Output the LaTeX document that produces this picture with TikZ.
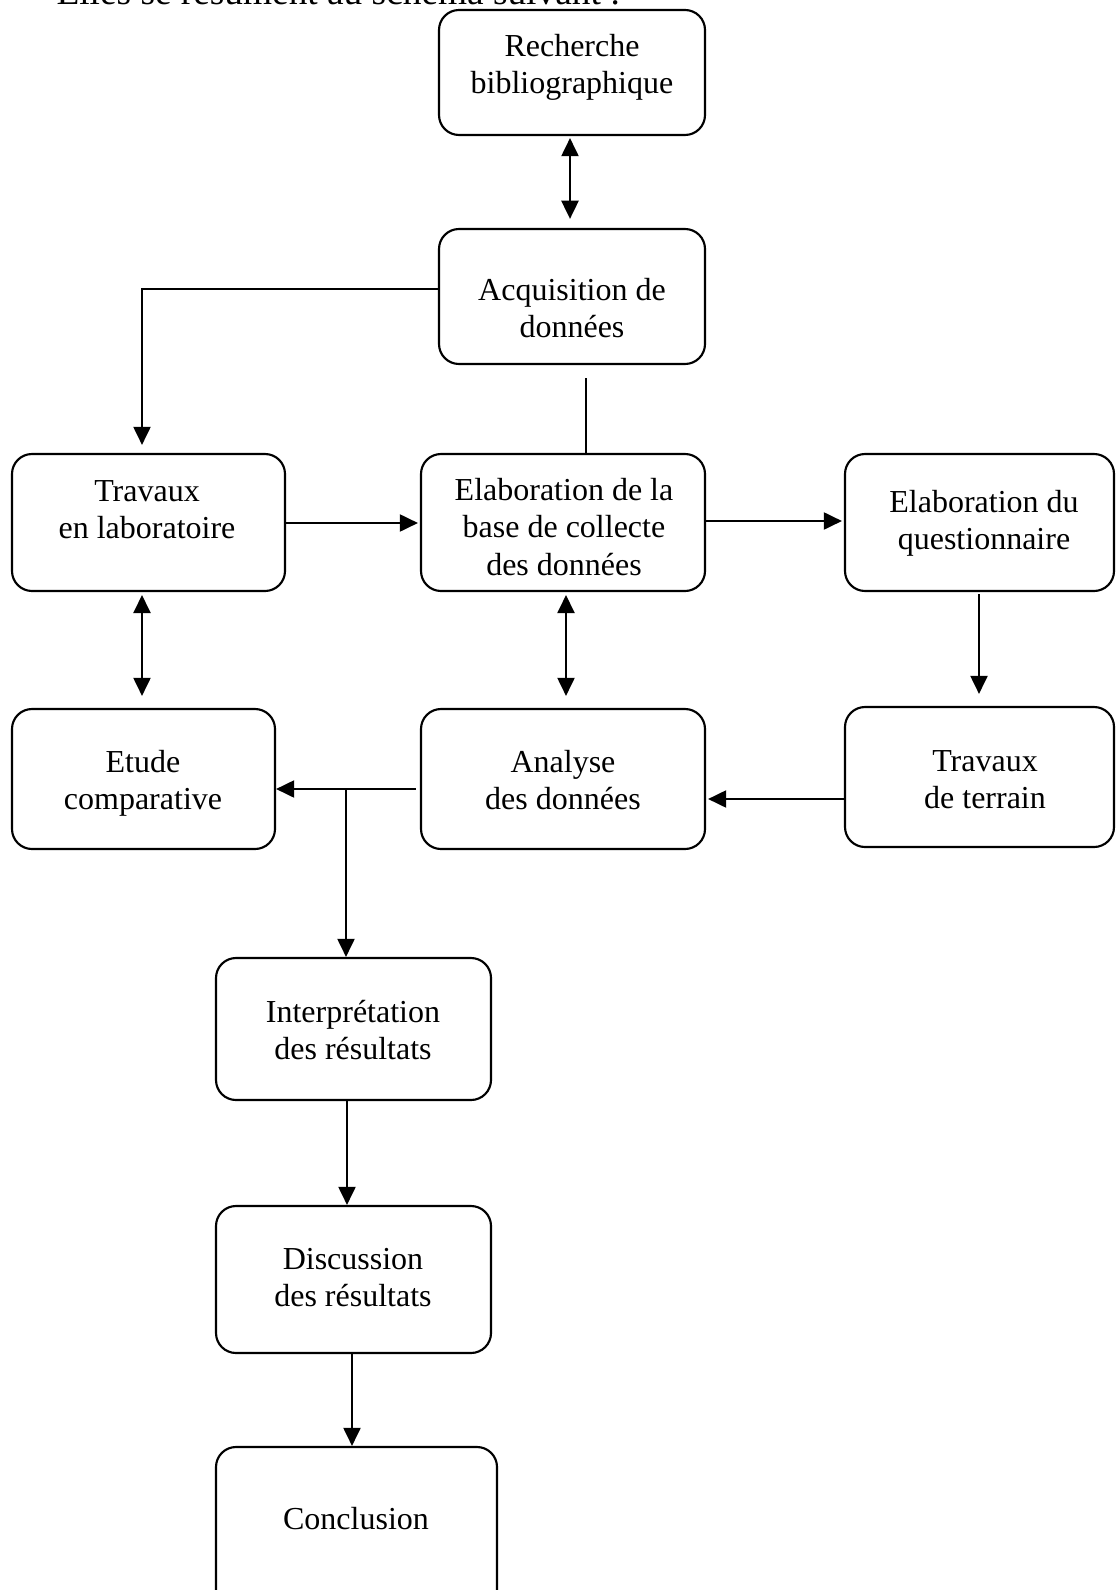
\documentclass[tikz,border=0pt]{standalone}
\usepackage{fontspec}
\setmainfont{Liberation Serif}
\usetikzlibrary{arrows.meta,fit}
\begin{document}
\begin{tikzpicture}[x=0.375pt,y=-0.375pt,
  box/.style={draw, line width=0.8pt, rounded corners=7.5pt, inner sep=0pt},
  txt/.style={align=center, font=\fontsize{12}{13.9}\selectfont, inner sep=0pt},
  tip/.style={},
  arr/.style={line width=0.8pt, -{Triangle[length=6.8pt,width=6.4pt]}},
  darr/.style={line width=0.8pt, {Triangle[length=6.8pt,width=6.4pt]}-{Triangle[length=6.8pt,width=6.4pt]}},
  ln/.style={line width=0.8pt}]
\useasboundingbox (0,0) rectangle (1116,1590);

\node[anchor=base west, font=\fontsize{14}{16}\selectfont, inner sep=0pt] (head) at (56,5) {Elles se résument au schéma suivant :};

\node[box, fit={(439,10) (705,135)}] (rech) {};
\node[txt] (trech) at (572,67) {Recherche\\bibliographique};
\node[box, fit={(439,229) (705,364)}] (acq) {};
\node[txt] (tacq) at (572,308) {Acquisition de\\données};
\node[box, fit={(12,454) (285,591)}] (lab) {};
\node[txt] (tlab) at (147,510) {Travaux\\en laboratoire};
\node[box, fit={(421,454) (705,591)}] (elab) {};
\node[txt] (telab) at (564,527) {Elaboration de la\\base de collecte\\des données};
\node[box, fit={(845,454) (1114,591)}] (quest) {};
\node[txt] (tquest) at (984,523) {Elaboration du\\questionnaire};
\node[box, fit={(12,709) (275,849)}] (etude) {};
\node[txt] (tetude) at (143,783) {Etude\\comparative};
\node[box, fit={(421,709) (705,849)}] (ana) {};
\node[txt] (tana) at (563,780) {Analyse\\des données};
\node[box, fit={(845,707) (1114,847)}] (terr) {};
\node[txt] (tterr) at (985,780) {Travaux\\de terrain};
\node[box, fit={(216,958) (491,1100)}] (interp) {};
\node[txt] (tinterp) at (353,1030) {Interprétation\\des résultats};
\node[box, fit={(216,1206) (491,1353)}] (disc) {};
\node[txt] (tdisc) at (353,1278) {Discussion\\des résultats};
\node[box, fit={(216,1447) (497,1620)}] (concl) {};
\node[txt] (tconcl) at (356,1519) {Conclusion};

\draw[darr, shorten <=0.75pt, shorten >=3.4pt] (570,0 |- rech.south) -- (570,0 |- acq.north);
\draw[arr, shorten >=3pt] (acq.west |- 0,289) -| (142,0 |- lab.north);
\draw[ln, shorten <=4.9pt] (586,0 |- acq.south) -- (586,0 |- elab.north);
\draw[arr, shorten >=0.75pt] (lab.east |- 0,523) -- (elab.west |- 0,523);
\draw[arr, shorten >=0.75pt] (elab.east |- 0,521) -- (quest.west |- 0,521);
\draw[darr, shorten <=1.1pt, shorten >=4.5pt] (142,0 |- lab.south) -- (142,0 |- etude.north);
\draw[darr, shorten <=1.1pt, shorten >=4.5pt] (566,0 |- elab.south) -- (566,0 |- ana.north);
\draw[arr, shorten <=0.75pt, shorten >=4.5pt] (979,0 |- quest.south) -- (979,0 |- terr.north);
\draw[arr, shorten >=0.75pt] (terr.west |- 0,799) -- (ana.east |- 0,799);
\coordinate (j) at (346,789);
\draw[arr, shorten <=1.5pt] (ana.west |- 0,789) -- (etude.east |- 0,789);
\draw[arr] (j) -- (j |- interp.north);
\draw[arr] (347,0 |- interp.south) -- (347,0 |- disc.north);
\draw[arr] (352,0 |- disc.south) -- (352,0 |- concl.north);
\end{tikzpicture}
\end{document}
